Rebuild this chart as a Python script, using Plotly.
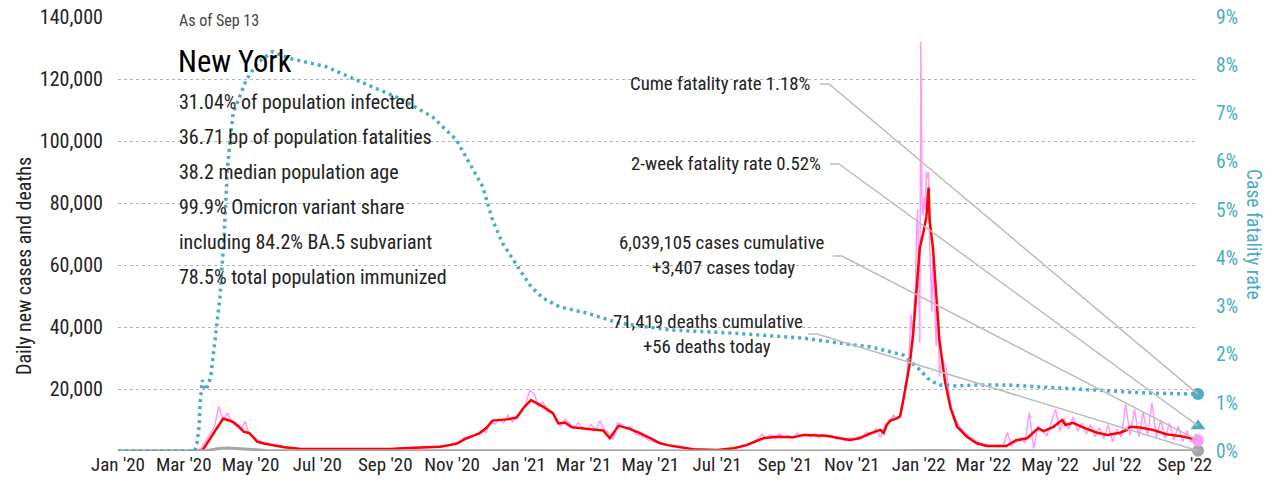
import pandas as pd
import plotly.graph_objects as go

# ----------------------------------------------------------------------------
# DATA (cases / deaths in thousands, fatality rate in %)
# ----------------------------------------------------------------------------

START_DATE = "2020-01-01"
END_DATE = "2022-09-13"

# 7-day average of new cases (red)
RED_DATES = [
    "2020-01-01", "2020-03-17", "2020-03-20", "2020-03-26", "2020-04-01", "2020-04-06",
    "2020-04-10", "2020-04-15", "2020-04-20", "2020-04-25", "2020-04-30", "2020-05-07",
    "2020-05-13", "2020-05-20", "2020-06-01", "2020-06-16", "2020-07-05", "2020-07-25",
    "2020-08-15", "2020-09-05", "2020-09-18", "2020-09-30", "2020-10-09", "2020-10-21",
    "2020-11-05", "2020-11-14", "2020-11-26", "2020-12-02", "2020-12-08", "2020-12-21",
    "2020-12-30", "2021-01-05", "2021-01-12", "2021-01-23", "2021-02-01", "2021-02-06",
    "2021-02-12", "2021-02-18", "2021-03-07", "2021-03-19", "2021-03-25", "2021-04-02",
    "2021-04-11", "2021-04-22", "2021-05-04", "2021-05-10", "2021-05-17", "2021-05-25",
    "2021-06-09", "2021-07-01", "2021-07-16", "2021-07-28", "2021-08-12", "2021-08-24",
    "2021-09-08", "2021-09-18", "2021-10-09", "2021-10-21", "2021-10-30", "2021-11-08",
    "2021-11-18", "2021-11-27", "2021-11-30", "2021-12-03", "2021-12-06", "2021-12-12",
    "2021-12-15", "2021-12-18", "2021-12-21", "2021-12-24", "2021-12-27", "2021-12-30",
    "2022-01-02", "2022-01-05", "2022-01-08", "2022-01-10", "2022-01-11", "2022-01-14",
    "2022-01-17", "2022-01-20", "2022-01-25", "2022-01-30", "2022-02-05", "2022-02-14",
    "2022-02-23", "2022-03-04", "2022-03-22", "2022-03-31", "2022-04-10", "2022-04-20",
    "2022-04-25", "2022-05-04", "2022-05-12", "2022-05-15", "2022-05-22", "2022-05-31",
    "2022-06-13", "2022-06-22", "2022-07-04", "2022-07-10", "2022-07-13", "2022-07-22",
    "2022-08-03", "2022-08-15", "2022-08-28", "2022-09-09", "2022-09-13",
]
RED_VALUES = [
    0, 0, 1.2, 4.6, 7.9, 10.5,
    10.0, 9.4, 8.0, 6.2, 5.8, 3.0,
    2.4, 1.9, 1.2, 0.65, 0.6, 0.65,
    0.6, 0.65, 0.85, 1.05, 1.35, 1.4,
    2.3, 4.1, 5.7, 7.3, 9.8, 10.2,
    10.8, 13.8, 16.4, 14.3, 12.2, 8.9,
    9.2, 7.7, 7.0, 6.6, 4.1, 8.1,
    7.3, 5.7, 3.6, 2.5, 1.9, 1.4,
    0.55, 0.32, 0.87, 1.9, 4.1, 4.6,
    4.4, 5.2, 4.95, 4.1, 3.55, 4.1,
    5.7, 6.8, 5.8, 8.5, 9.8, 10.5,
    11.2, 16.5, 22.0, 28.5, 38.0, 52.0,
    65.5, 70.0, 75.5, 85.0, 74.5, 65.5,
    49.5, 35.5, 22.5, 14.0, 7.9, 4.6,
    2.5, 1.6, 1.6, 3.5, 4.1, 7.3,
    6.4, 7.8, 10.0, 8.4, 9.1, 7.6,
    5.9, 5.2, 5.9, 6.8, 7.8, 7.6,
    6.8, 5.4, 4.8, 3.8, 3.6,
]

# daily new cases (pink): every 4 days from Mar 1 2020
PINK_A_START = "2020-03-01"
PINK_A = [
    0, 0, 0, 0.1, 0.9, 3.2, 5.5, 7.8, 14.5, 9.8,
    12.3, 9.2, 8.0, 6.8, 9.6, 5.2, 4.6, 3.4, 2.9, 2.4,
    2.1, 1.7, 1.5, 1.3, 1.1, 0.9, 0.8, 0.75, 0.7, 0.65,
    0.7, 0.65, 0.7, 0.75, 0.7, 0.65, 0.7, 0.7, 0.7, 0.65,
    0.7, 0.6, 0.65, 0.6, 0.7, 0.65, 0.7, 0.75, 0.8, 0.85,
    0.95, 1.1, 1.0, 1.2, 1.3, 1.5, 1.3, 1.4, 1.6, 1.4,
    1.8, 2.0, 2.6, 3.0, 4.4, 3.9, 5.0, 5.6, 6.6, 6.0,
    9.6, 8.6, 10.4, 9.1, 11.6, 9.4, 11.2, 12.8, 15.2, 19.6,
    18.4, 14.4, 15.8, 12.8, 12.4, 10.2, 8.1, 10.2, 9.0, 7.2,
    9.1, 7.6, 7.0, 8.6, 6.6, 9.8, 7.0, 5.8, 3.8, 9.0,
    8.4, 7.0, 7.9, 5.6, 5.2, 4.6, 3.6, 3.2, 2.6, 2.6,
    2.0, 1.8, 1.4, 1.2, 0.9, 0.75, 0.55, 0.5, 0.45, 0.4,
    0.35, 0.35, 0.4, 0.45, 0.6, 0.8, 1.0, 1.4, 2.0, 2.4,
    3.0, 3.9, 5.4, 4.2, 5.3, 4.0, 5.6, 4.3, 5.0, 4.1,
    5.8, 4.5, 5.5, 4.6, 5.6, 4.3, 5.3, 4.5, 5.0, 3.9,
    4.2, 3.3, 4.3, 3.6, 4.6, 4.9, 6.1, 5.3, 7.1, 4.4,
    8.2, 9.6, 11.6, 10.4, 13.8,
]
# daily through the Omicron peak
PINK_PEAK_START = "2021-12-20"
PINK_PEAK = [
    22, 21, 28, 30, 36, 44, 40, 35, 48, 52,
    70, 78, 60, 35, 132, 80, 76, 82, 78, 90,
    88, 90, 68, 58, 45, 62, 52, 38, 34, 48,
    32, 24,
]
# every 4 days again after the peak
PINK_B_START = "2022-01-22"
PINK_B = [
    30, 27, 15, 10.5, 8.0, 6.2, 5.0, 4.0, 3.0, 2.4,
    2.1, 1.7, 1.6, 1.4, 1.8, 6.0, 1.6, 3.0, 4.2, 2.5,
    12.5, 0.8, 8.0, 6.5, 5.0, 9.0, 13.5, 6.5, 10.5, 7.0,
    11.0, 6.5, 9.0, 5.5, 8.5, 4.5, 7.5, 4.0, 8.5, 3.0,
    7.0, 4.5, 15.0, 5.0, 13.5, 4.5, 12.5, 5.0, 15.5, 4.5,
    10.0, 4.0, 9.0, 3.5, 8.0, 3.0, 6.5, 2.8, 5.5,
]

# daily deaths (gray)
DEATH_DATES = [
    "2020-01-01", "2020-03-15", "2020-03-25", "2020-04-02", "2020-04-10", "2020-04-18",
    "2020-05-01", "2020-05-15", "2020-06-05", "2020-09-01", "2020-12-15", "2021-01-20",
    "2021-03-01", "2021-06-01", "2021-09-01", "2021-12-15", "2022-01-15", "2022-02-15",
    "2022-04-01", "2022-09-13",
]
DEATH_VALUES = [
    0, 0, 0.3, 0.8, 1.0, 0.85,
    0.5, 0.2, 0.06, 0.02, 0.08, 0.17,
    0.08, 0.02, 0.03, 0.05, 0.2, 0.06,
    0.02, 0.056,
]

# cumulative case fatality rate, % (teal dotted, right axis)
CFR_DATES = [
    "2020-01-01", "2020-03-11", "2020-03-13", "2020-03-15", "2020-03-16", "2020-03-18",
    "2020-03-21", "2020-03-24", "2020-03-26", "2020-04-03", "2020-04-07", "2020-04-10",
    "2020-04-15", "2020-04-27", "2020-05-07", "2020-05-21", "2020-06-06", "2020-07-09",
    "2020-08-06", "2020-09-17", "2020-10-14", "2020-11-05", "2020-11-29", "2020-12-08",
    "2020-12-17", "2020-12-24", "2021-01-02", "2021-01-12", "2021-01-23", "2021-02-07",
    "2021-03-04", "2021-04-03", "2021-05-19", "2021-07-19", "2021-09-18", "2021-11-02",
    "2021-11-18", "2021-12-18", "2021-12-30", "2022-01-11", "2022-01-20", "2022-02-04",
    "2022-02-23", "2022-03-22", "2022-04-21", "2022-05-22", "2022-06-21", "2022-07-22",
    "2022-08-21", "2022-09-13",
]
CFR_VALUES = [
    0, 0, 0.15, 0.5, 1.0, 1.47,
    1.26, 1.4, 1.6, 3.17, 4.5, 5.9,
    7.0, 7.69, 8.04, 8.28, 8.14, 7.97,
    7.69, 7.28, 6.93, 6.45, 5.48, 4.79,
    4.31, 4.05, 3.75, 3.41, 3.17, 2.99,
    2.86, 2.65, 2.51, 2.44, 2.34, 2.2,
    2.16, 1.99, 1.75, 1.47, 1.37, 1.35,
    1.37, 1.37, 1.33, 1.29, 1.24, 1.21,
    1.19, 1.18,
]

CFR_CUME = 1.18
CFR_2WEEK = 0.52
CASES_TODAY = 3407
DEATHS_TODAY = 56
CASES_CUM = 6039105
DEATHS_CUM = 71419

AS_OF = "As of Sep 13"
STATE = "New York"
STATS = [
    "31.04% of population infected",
    "36.71 bp of population fatalities",
    "38.2 median population age",
    "99.9% Omicron variant share",
    "including 84.2% BA.5 subvariant",
    "78.5% total population immunized",
]

Y_TICKS = [20000, 40000, 60000, 80000, 100000, 120000, 140000]
Y2_TICKS = [0, 1, 2, 3, 4, 5, 6, 7, 8, 9]
Y_MAX = 140000
Y2_MAX = 9

# ----------------------------------------------------------------------------
# STYLE
# ----------------------------------------------------------------------------

FONT = "Roboto Condensed, DejaVu Sans Condensed, sans-serif"
TEAL = "#4bacc6"
PINK = "#ff99ff"
RED = "#ff0000"
GRAY = "#a6a6a6"
LINK = "#bdbdbd"
TEXT = "#222222"

# page is 1275x491; the html body adds an 8px margin around the figure
PAGE_W, PAGE_H, BODY = 1275, 491, 8
W, H = PAGE_W - 2 * BODY, PAGE_H - 2 * BODY
# plot area in page pixels
L, R, T, B = 118, 1198, 17, 451
PW, PH = R - L, B - T


def px(x):
    """page pixel x -> paper x"""
    return (x - L) / PW


def py(y):
    """page pixel y (from top) -> paper y"""
    return (B - y) / PH


# ----------------------------------------------------------------------------
# BUILD SERIES
# ----------------------------------------------------------------------------

pink_x = ([pd.Timestamp(START_DATE)]
          + list(pd.date_range(PINK_A_START, periods=len(PINK_A), freq="4D"))
          + list(pd.date_range(PINK_PEAK_START, periods=len(PINK_PEAK), freq="D"))
          + list(pd.date_range(PINK_B_START, periods=len(PINK_B), freq="4D"))
          + [pd.Timestamp(END_DATE)])
pink_y = [0] + PINK_A + PINK_PEAK + PINK_B + [CASES_TODAY / 1000]
pink_y = [v * 1000 for v in pink_y]

fig = go.Figure()

fig.add_trace(go.Scatter(
    x=pink_x, y=pink_y, mode='lines',
    line=dict(color=PINK, width=1.5), hoverinfo='skip', showlegend=False
))
fig.add_trace(go.Scatter(
    x=pd.to_datetime(RED_DATES), y=[v * 1000 for v in RED_VALUES], mode='lines',
    line=dict(color=RED, width=2.5), hoverinfo='skip', showlegend=False
))
fig.add_trace(go.Scatter(
    x=pd.to_datetime(DEATH_DATES), y=[v * 1000 for v in DEATH_VALUES], mode='lines',
    line=dict(color=GRAY, width=3), hoverinfo='skip', showlegend=False
))
fig.add_trace(go.Scatter(
    x=pd.to_datetime(CFR_DATES), y=CFR_VALUES, mode='lines', yaxis='y2',
    line=dict(color=TEAL, width=3.5, dash='3px,4px'), hoverinfo='skip', showlegend=False
))

# end markers
end = pd.Timestamp(END_DATE)
fig.add_trace(go.Scatter(
    x=[end], y=[DEATHS_TODAY], mode='markers', cliponaxis=False,
    marker=dict(color=GRAY, size=12), hoverinfo='skip', showlegend=False
))
fig.add_trace(go.Scatter(
    x=[end], y=[CASES_TODAY], mode='markers', cliponaxis=False,
    marker=dict(color=PINK, size=12), hoverinfo='skip', showlegend=False
))
fig.add_trace(go.Scatter(
    x=[end], y=[CFR_2WEEK], mode='markers', yaxis='y2', cliponaxis=False,
    marker=dict(color=TEAL, size=13, symbol='triangle-up'), hoverinfo='skip', showlegend=False
))
fig.add_trace(go.Scatter(
    x=[end], y=[CFR_CUME], mode='markers', yaxis='y2', cliponaxis=False,
    marker=dict(color=TEAL, size=12), hoverinfo='skip', showlegend=False
))

# ----------------------------------------------------------------------------
# ANNOTATIONS
# ----------------------------------------------------------------------------

annotations = []


def label(text, x, y, size=19, color=TEXT, xanchor='left'):
    annotations.append(dict(
        text=text, x=px(x), y=py(y), xref='paper', yref='paper',
        xanchor=xanchor, yanchor='middle', showarrow=False,
        font=dict(family=FONT, size=size, color=color)
    ))


label(AS_OF, 177, 20, size=16, color='#444444')
label(STATE, 176, 61, size=30.5, color='#000000')
for i, s in enumerate(STATS):
    label(s, 177, 102 + 35 * i, size=20)

label(f"Cume fatality rate {CFR_CUME:.2f}%", 813, 84, size=18.8, xanchor='right')
label(f"2-week fatality rate {CFR_2WEEK:.2f}%", 823, 164, size=18.8, xanchor='right')
label(f"{CASES_CUM:,} cases cumulative", 722, 243, size=18.8, xanchor='center')
label(f"+{CASES_TODAY:,} cases today", 723, 268, size=18.8, xanchor='center')
label(f"{DEATHS_CUM:,} deaths cumulative", 708, 322, size=18.8, xanchor='center')
label(f"+{DEATHS_TODAY} deaths today", 707, 347, size=18.8, xanchor='center')

# axis titles
annotations.append(dict(
    text="Daily new cases and deaths", x=px(24), y=py(266), xref='paper', yref='paper',
    xanchor='center', yanchor='middle', textangle=-90, showarrow=False,
    font=dict(family=FONT, size=20, color=TEXT)
))
annotations.append(dict(
    text="Case fatality rate", x=px(1254), y=py(234), xref='paper', yref='paper',
    xanchor='center', yanchor='middle', textangle=90, showarrow=False,
    font=dict(family=FONT, size=19.5, color=TEAL)
))

# leader lines from labels to the end markers
shapes = []
links = [
    (820, 84, CFR_CUME / Y2_MAX),
    (830, 164, CFR_2WEEK / Y2_MAX),
    (833, 256, CASES_TODAY / Y_MAX),
    (808, 334, DEATHS_TODAY / Y_MAX),
]
for x0, y0, yend in links:
    shapes.append(dict(
        type='path', xref='paper', yref='paper',
        path=f"M {px(x0)} {py(y0)} L {px(x0 + 9)} {py(y0)} L 1 {yend}",
        line=dict(color=LINK, width=1.5)
    ))

fig.update_layout(
    width=W, height=H,
    margin=dict(l=L - BODY, r=W - (R - BODY), t=T - BODY, b=H - (B - BODY), autoexpand=False),
    paper_bgcolor='white', plot_bgcolor='white',
    font=dict(family=FONT, size=19, color=TEXT),
    showlegend=False,
    xaxis=dict(
        type='date', range=[START_DATE, END_DATE], automargin=False,
        tickvals=pd.date_range(START_DATE, END_DATE, freq='2MS'),
        tickformat="%b '%y", tickangle=0, showgrid=False, zeroline=False, showline=False,
        ticks='', ticklabeloverflow='allow', tickfont=dict(size=19, color=TEXT)
    ),
    yaxis=dict(
        range=[0, Y_MAX], tickvals=Y_TICKS, tickformat=',d', automargin=False,
        showgrid=True, gridcolor='#b5b5b5', griddash='dot', gridwidth=1,
        zeroline=False, showline=False, ticks='', ticklabelstandoff=14,
        ticklabeloverflow='allow', tickfont=dict(size=20, color=TEXT)
    ),
    yaxis2=dict(
        overlaying='y', side='right', range=[0, Y2_MAX], tickvals=Y2_TICKS,
        ticktext=[f"{v}%" for v in Y2_TICKS], showgrid=False, zeroline=False,
        showline=False, ticks='', ticklabelstandoff=17, automargin=False,
        ticklabeloverflow='allow', tickfont=dict(size=19.5, color=TEAL)
    ),
    annotations=annotations,
    shapes=shapes,
)

fig.write_html("out.html")
